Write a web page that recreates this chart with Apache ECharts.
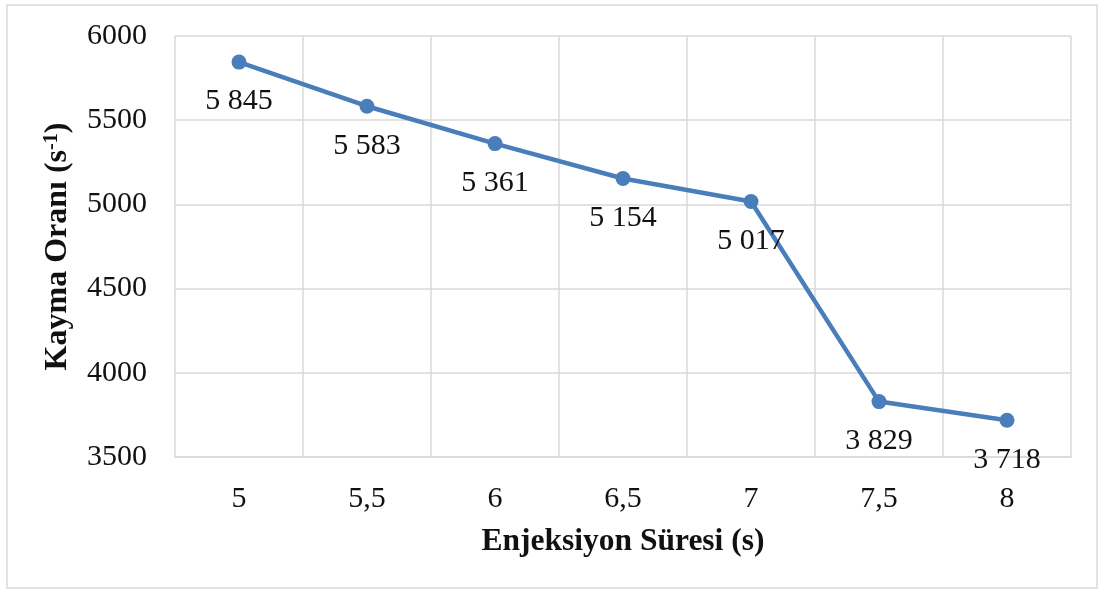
<!DOCTYPE html>
<html>
<head>
<meta charset="utf-8">
<script src="https://cdn.jsdelivr.net/npm/echarts@6/dist/echarts.min.js"></script>
<style>
html,body{margin:0;padding:0;background:#fff;}
#chart{width:1099px;height:590px;}
</style>
</head>
<body>
<div id="chart"></div>
<script>
const categories = ['5', '5,5', '6', '6,5', '7', '7,5', '8'];
const kaymaOrani = [5845, 5583, 5361, 5154, 5017, 3829, 3718];
const yTicks = [3500, 4000, 4500, 5000, 5500, 6000];

const FONT = "'Liberation Serif', 'Times New Roman', serif";
const chart = echarts.init(document.getElementById('chart'));
function fmt(v) {
  const s = String(Math.round(v));
  return s.replace(/\B(?=(\d{3})+(?!\d))/g, ' ');
}
chart.setOption({
  animation: false,
  backgroundColor: '#ffffff',
  graphic: [{
    type: 'rect',
    shape: { x: 7, y: 5, width: 1090, height: 583 },
    style: { fill: 'none', stroke: '#d9d9d9', lineWidth: 1.5 },
    silent: true
  }],
  grid: { left: 175, right: 28, top: 36, bottom: 133, containLabel: false },
  xAxis: {
    type: 'category',
    data: categories,
    boundaryGap: true,
    axisLine: { show: true, lineStyle: { color: '#d9d9d9', width: 1.5 } },
    axisTick: { show: false },
    splitLine: { show: true, interval: 0, lineStyle: { color: '#d9d9d9', width: 1.5 } },
    axisLabel: { fontFamily: FONT, fontSize: 30, color: '#111', margin: 27, interval: 0 },
    name: 'Enjeksiyon Süresi (s)',
    nameLocation: 'middle',
    nameGap: 69,
    nameTextStyle: { fontFamily: FONT, fontSize: 31.5, fontWeight: 'bold', color: '#111' }
  },
  yAxis: {
    type: 'value',
    min: yTicks[0],
    max: yTicks[yTicks.length - 1],
    interval: yTicks[1] - yTicks[0],
    axisLine: { show: false },
    axisTick: { show: false },
    splitLine: { show: true, lineStyle: { color: '#d9d9d9', width: 1.5 } },
    axisLabel: { fontFamily: FONT, fontSize: 30, color: '#111', margin: 28, formatter: v => String(v) },
    name: '{b|Kayma Oranı (s}{sup|-1}{b|)}',
    nameLocation: 'middle',
    nameGap: 101,
    nameRotate: 90,
    nameTextStyle: {
      rich: {
        b: { fontFamily: FONT, fontSize: 32, fontWeight: 'bold', color: '#111' },
        sup: { fontFamily: FONT, fontSize: 20, fontWeight: 'bold', color: '#111', verticalAlign: 'top', padding: [0, 0, 12, 0] }
      }
    }
  },
  series: [{
    type: 'line',
    data: kaymaOrani,
    symbol: 'circle',
    symbolSize: 15,
    lineStyle: { color: '#4a7ebb', width: 4.5 },
    itemStyle: { color: '#4a7ebb' },
    label: {
      show: true,
      position: 'bottom',
      distance: 17,
      fontFamily: FONT,
      fontSize: 30,
      color: '#111',
      formatter: p => fmt(p.value)
    }
  }]
});
</script>
</body>
</html>
